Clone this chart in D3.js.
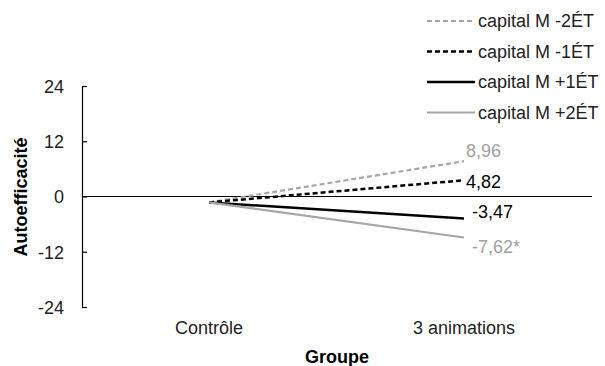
<!DOCTYPE html>
<html>
<head>
<meta charset="utf-8">
<script src="https://cdn.jsdelivr.net/npm/d3@7"></script>
<style>
  body { margin: 0; background: #fff; }
  svg text { font-family: "Liberation Sans", Arial, sans-serif; }
</style>
</head>
<body>
<div id="chart"></div>
<script>
// data
var groups = ["Contrôle", "3 animations"]
var seriesNames = ["capital M -2ÉT", "capital M -1ÉT", "capital M +1ÉT", "capital M +2ÉT"]
var controlValues = [-1.29, -1.29, -1.29, -1.29]
var animValues = [7.67, 3.53, -4.76, -8.91]
var pointLabels = ["8,96", "4,82", "-3,47", "-7,62*"]
var yTicks = [-24, -12, 0, 12, 24]

var styles = [
  {stroke: "#a6a6a6", width: 2.2, dash: "5,3", text: "#a0a0a0"},
  {stroke: "#000", width: 2.5, dash: "5,3", text: "#000"},
  {stroke: "#000", width: 2.5, dash: null, text: "#000"},
  {stroke: "#a6a6a6", width: 2.2, dash: null, text: "#a0a0a0"}
]
var fs = "18px"

var W = 605, H = 366
var svg = d3.select("#chart").append("svg")
  .attr("width", W).attr("height", H)

var x = d3.scalePoint().domain(groups).range([209, 464]).padding(0)
var xLeft = 82, xRight = 592
var y = d3.scaleLinear().domain([-24, 24]).range([307, 86])

// y axis
var yAxis = svg.append("g")
  .attr("transform", "translate(" + xLeft + ",0)")
  .call(d3.axisRight(y).tickValues(yTicks).tickSize(5).tickSizeOuter(0)
    .tickFormat(function(d) { return String(d) }))
yAxis.select(".domain").attr("stroke", "#000").attr("stroke-width", 1.2)
yAxis.selectAll(".tick line").attr("stroke", "#000").attr("stroke-width", 1.2)
yAxis.selectAll(".tick text")
  .attr("x", -18).attr("dy", "0.35em")
  .attr("text-anchor", "end")
  .style("font-size", fs).attr("fill", "#222")

// zero line
svg.append("line")
  .attr("x1", xLeft).attr("x2", xRight)
  .attr("y1", y(0)).attr("y2", y(0))
  .attr("stroke", "#000").attr("stroke-width", 1.2)

// category labels
svg.selectAll(".cat")
  .data(groups)
  .enter().append("text")
  .attr("x", function(d) { return x(d) })
  .attr("y", 328).attr("dy", "0.35em")
  .attr("text-anchor", "middle")
  .style("font-size", fs).attr("fill", "#222")
  .text(function(d) { return d })

// axis titles
svg.append("text")
  .attr("x", 337).attr("y", 357).attr("dy", "0.35em")
  .attr("text-anchor", "middle")
  .style("font-size", fs).style("font-weight", "bold")
  .text("Groupe")
svg.append("text")
  .attr("transform", "translate(21,197) rotate(-90)")
  .attr("dy", "0.35em")
  .attr("text-anchor", "middle")
  .style("font-size", fs).style("font-weight", "bold")
  .text("Autoefficacité")

// lines
var line = d3.line()
  .x(function(d) { return x(d.g) })
  .y(function(d) { return y(d.v) })

seriesNames.forEach(function(name, i) {
  var pts = [{g: groups[0], v: controlValues[i]}, {g: groups[1], v: animValues[i]}]
  svg.append("path")
    .datum(pts)
    .attr("fill", "none")
    .attr("stroke", styles[i].stroke)
    .attr("stroke-width", styles[i].width)
    .attr("stroke-dasharray", styles[i].dash)
    .attr("d", line)
})

// value labels
var labelDy = [-10, 1, -7, 9]
svg.selectAll(".vlab")
  .data(pointLabels)
  .enter().append("text")
  .attr("x", function(d, i) { return x(groups[1]) + (i < 2 ? 2 : 8) })
  .attr("y", function(d, i) { return y(animValues[i]) + labelDy[i] })
  .attr("dy", "0.35em")
  .style("font-size", fs)
  .attr("fill", function(d, i) { return styles[i].text })
  .text(function(d) { return d })

// legend
var legend = svg.selectAll(".leg")
  .data(seriesNames)
  .enter().append("g")
  .attr("transform", function(d, i) { return "translate(427," + (21 + i * 30.5) + ")" })
legend.append("line")
  .attr("x1", 0).attr("x2", 48)
  .attr("stroke", function(d, i) { return styles[i].stroke })
  .attr("stroke-width", function(d, i) { return styles[i].width })
  .attr("stroke-dasharray", function(d, i) { return styles[i].dash })
legend.append("text")
  .attr("x", 51).attr("dy", "0.35em")
  .style("font-size", fs).attr("fill", "#222")
  .text(function(d) { return d })
</script>
</body>
</html>
